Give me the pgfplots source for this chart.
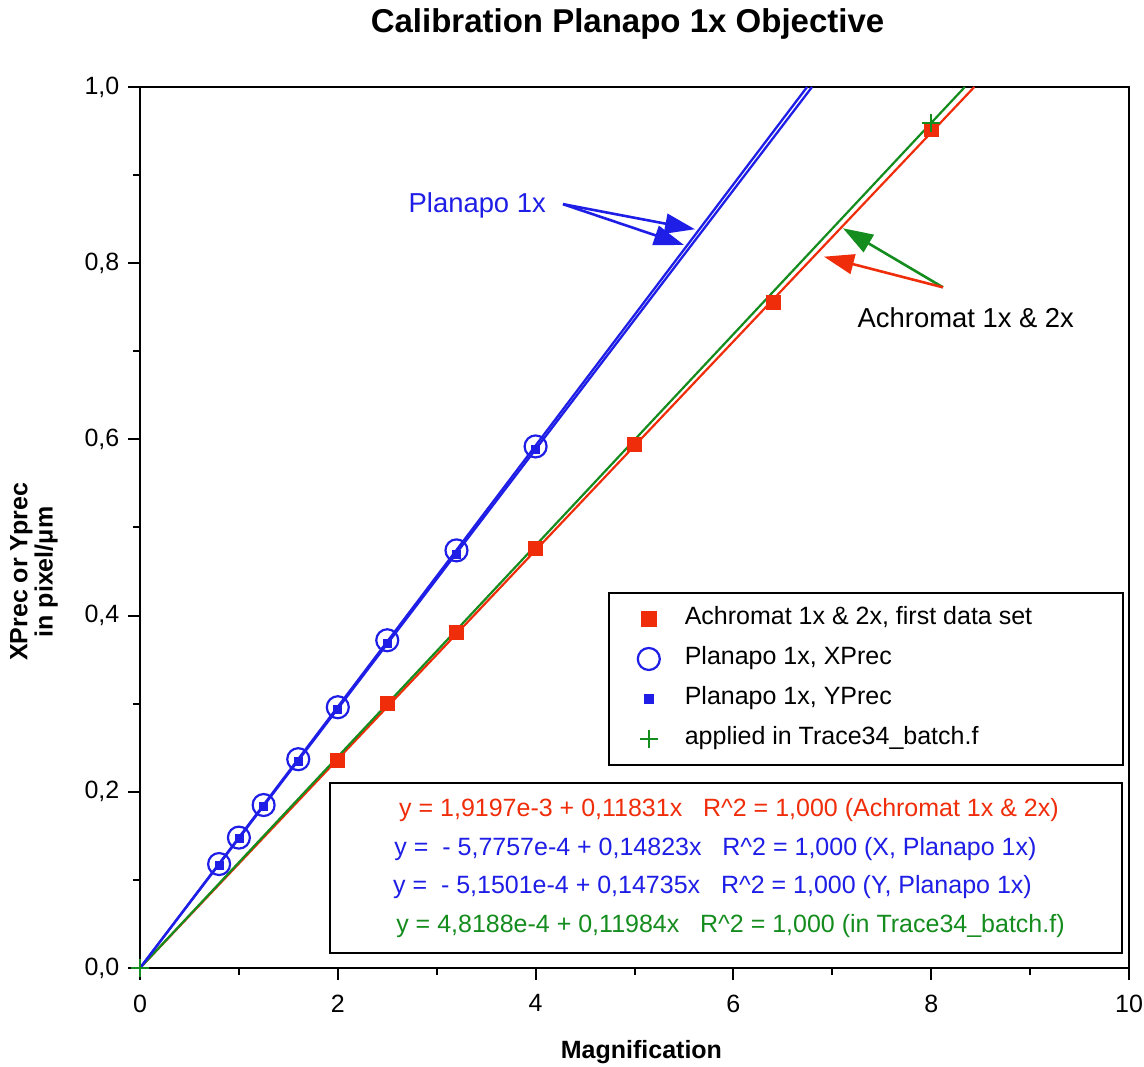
\documentclass[border=0pt]{standalone}
\usepackage{fontspec}
\setmainfont{Liberation Sans}
\usepackage{pgfplots}
\pgfplotsset{compat=1.18}
\usetikzlibrary{arrows.meta}
\definecolor{cred}{RGB}{240,45,10}
\definecolor{cblue}{RGB}{30,30,230}
\definecolor{cgreen}{RGB}{20,140,30}
\begin{document}
\fontsize{12.5}{15}\selectfont
\begin{tikzpicture}
\useasboundingbox (-70pt,-49pt) rectangle (502pt,484pt);
\begin{axis}[
  at={(0pt,0pt)}, anchor=south west,
  scale only axis, width=494.5pt, height=440.5pt,
  xmin=0, xmax=10, ymin=0, ymax=1,
  xtick={0,2,4,6,8,10}, ytick={0,0.2,0.4,0.6,0.8,1.0},
  minor x tick num=1, minor y tick num=1,
  tick pos=left, tick align=outside,
  major tick length=6pt, minor tick length=3.5pt,
  every tick/.style={black, line width=1pt},
  axis line style={line width=1pt},
  /pgf/number format/assume math mode=true,
  ticklabel style={font=\fontsize{12.5}{15}\selectfont},
  yticklabel style={/pgf/number format/fixed, /pgf/number format/fixed zerofill, /pgf/number format/precision=1, /pgf/number format/use comma},
  xticklabel style={yshift=-3pt, /pgf/number format/fixed, /pgf/number format/precision=0},
  xlabel={Magnification},
  xlabel style={at={(axis description cs:0.507,-0.095)}, anchor=center, font=\bfseries\fontsize{12.5}{15}\selectfont},
  ylabel={XPrec or Yprec\\in pixel/μm},
  ylabel style={at={(axis description cs:-0.1072,0.4495)}, anchor=center, rotate=0, align=center, font=\bfseries\fontsize{12.5}{10.5}\selectfont},
  legend style={at={(axis description cs:0.473,0.4268)}, anchor=north west,
    draw=black, line width=1pt, fill=white, inner xsep=2pt, inner ysep=7pt,
    font=\fontsize{12.5}{15}\selectfont, row sep=8pt, column sep=0pt,
    nodes={inner sep=0pt, text height=9pt, text depth=3pt}},
  legend cell align=left,
  legend image code/.code={\path[draw=none,fill=none] (-18pt,0pt) -- (18pt,0pt); \draw plot coordinates {(0pt,0pt)};},
]
% fit lines
\addplot[cred, line width=1.1pt, forget plot] coordinates {(0,0) (8.436,1.0)};
\addplot[cgreen, line width=1.1pt, forget plot] coordinates {(0,0) (8.340,1.0)};
\addplot[cblue, line width=1.15pt, forget plot] coordinates {(0,0) (6.745,1.0)};
\addplot[cblue, line width=1.15pt, forget plot] coordinates {(0,0) (6.795,1.0)};
% data
\addplot[only marks, mark=square*, mark size=3.5pt, color=cred, mark options={draw=cred, fill=cred}]
  coordinates {(2,0.236) (2.5,0.300) (3.2,0.381) (4,0.476) (5,0.594) (6.4,0.755) (8,0.952)};
\addlegendentry{\makebox[217pt][l]{Achromat 1x \& 2x, first data set}}
\addplot[only marks, mark=o, mark size=5.5pt, color=cblue, mark options={line width=1.1pt}]
  coordinates {(0.8,0.118) (1.0,0.148) (1.25,0.185) (1.6,0.237) (2.0,0.296) (2.5,0.372) (3.2,0.474) (4.0,0.592)};
\addlegendentry{Planapo 1x, XPrec}
\addplot[only marks, mark=square*, mark size=2pt, color=cblue, mark options={draw=cblue, fill=cblue}]
  coordinates {(0.8,0.117) (1.0,0.147) (1.25,0.184) (1.6,0.235) (2.0,0.294) (2.5,0.368) (3.2,0.469) (4.0,0.589)};
\addlegendentry{Planapo 1x, YPrec}
\addplot[only marks, mark=+, mark size=4.5pt, color=cgreen, mark options={line width=1.2pt}]
  coordinates {(0,0) (8,0.959)};
\addlegendentry{applied in Trace34\_batch.f}
% annotations
\node[text=cblue, font=\fontsize{13.7}{16}\selectfont] at (axis cs:3.41,0.866) {Planapo 1x};
\draw[cblue, line width=1.3pt, -{Triangle[length=15pt,width=10pt]}] (axis cs:4.277,0.867) -- (axis cs:5.612,0.8385);
\draw[cblue, line width=1.3pt, -{Triangle[length=15pt,width=10pt]}] (axis cs:4.277,0.867) -- (axis cs:5.50,0.8207);
\node[text=black, font=\fontsize{13.7}{16}\selectfont] at (axis cs:8.35,0.738) {Achromat 1x \& 2x};
\draw[cgreen, line width=1.3pt, -{Triangle[length=15pt,width=10pt]}] (axis cs:8.119,0.7726) -- (axis cs:7.108,0.8396);
\draw[cred, line width=1.3pt, -{Triangle[length=15pt,width=10pt]}] (axis cs:8.119,0.7726) -- (axis cs:6.916,0.8074);
\node[draw=black, line width=1pt, fill=white, minimum width=396pt, minimum height=85pt, align=center,
  font=\fontsize{12.5}{19.2}\selectfont, inner sep=0pt] at (rel axis cs:0.5925,0.1135) {%
  \hspace*{3pt}\textcolor{cred}{y = 1,9197e-3 + 0,11831x\ \ \ R\textasciicircum2 = 1,000 (Achromat 1x \& 2x)}\\
  \hspace*{-10.5pt}\textcolor{cblue}{y = \ - 5,7757e-4 + 0,14823x\ \ \ R\textasciicircum2 = 1,000 (X, Planapo 1x)}\\
  \hspace*{-13.5pt}\textcolor{cblue}{y = \ - 5,1501e-4 + 0,14735x\ \ \ R\textasciicircum2 = 1,000 (Y, Planapo 1x)}\\
  \hspace*{4.5pt}\textcolor{cgreen}{y = 4,8188e-4 + 0,11984x\ \ \ R\textasciicircum2 = 1,000 (in Trace34\_batch.f)}};
\end{axis}
\node[anchor=base, font=\bfseries\fontsize{16.5}{20}\selectfont] at (243.75pt,467.5pt) {Calibration Planapo 1x Objective};
\end{tikzpicture}
\end{document}
